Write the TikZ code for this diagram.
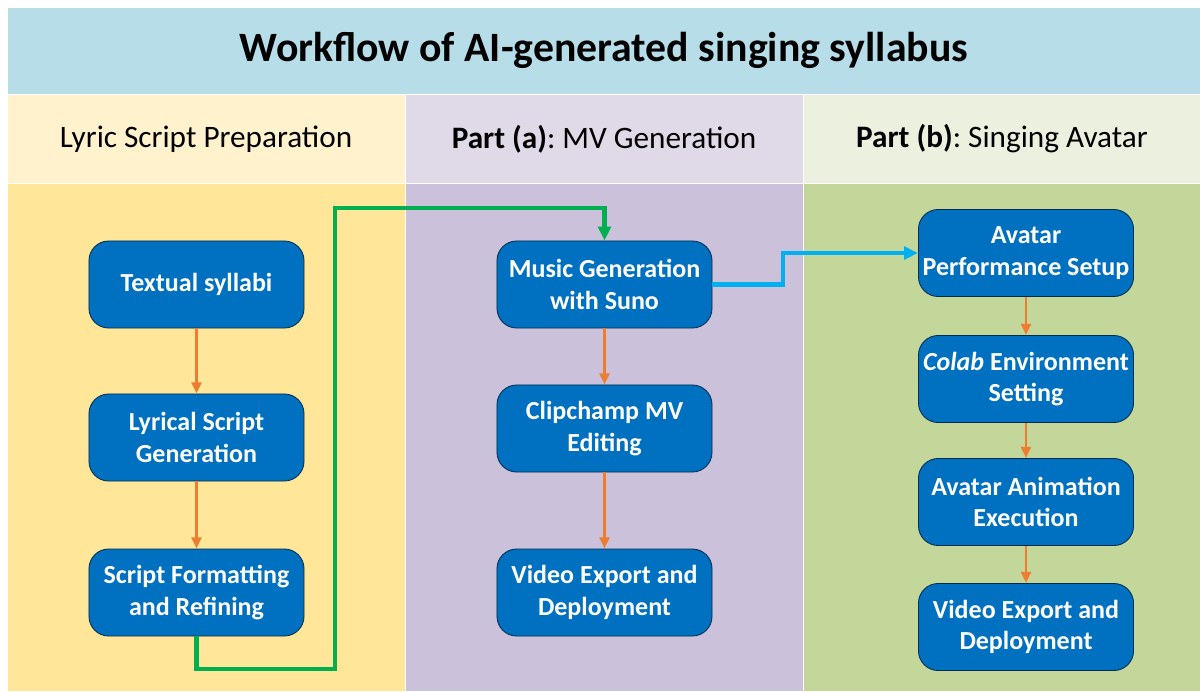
\documentclass[tikz,border=0pt]{standalone}
\usepackage{fontspec}
\setmainfont{Carlito}
\usetikzlibrary{calc,arrows.meta}
\frenchspacing

\definecolor{titleblue}{HTML}{B7DDE8}
\definecolor{headA}{HTML}{FFF2CC}
\definecolor{bodyA}{HTML}{FFE699}
\definecolor{headB}{HTML}{E0D9E7}
\definecolor{bodyB}{HTML}{CCC1DA}
\definecolor{headC}{HTML}{EBF1DE}
\definecolor{bodyC}{HTML}{C4D79B}
\definecolor{boxblue}{HTML}{0070C0}
\definecolor{flowor}{HTML}{ED7D31}
\definecolor{flowgr}{HTML}{00B050}
\definecolor{flowbl}{HTML}{00B0F0}

\begin{document}
\begin{tikzpicture}[x=0.025cm,y=-0.025cm,
	band/.style={draw=white, line width=0.6pt},
	headlab/.style={font=\fontsize{22.2}{26}\selectfont, inner sep=0},
	stepbox/.style={rectangle, rounded corners=14pt, draw=black!60!boxblue, line width=0.6pt, fill=boxblue, text=white, font=\fontsize{18.5}{22.5}\selectfont\bfseries, align=center, minimum width=5.375cm, minimum height=2.175cm, inner sep=0},
	olink/.style={flowor, line width=2pt, -{Triangle[length=8pt,width=7pt]}},
	glink/.style={flowgr, line width=3pt, -{Triangle[length=10pt,width=9pt]}},
	blink/.style={flowbl, line width=3pt, -{Triangle[length=10pt,width=9pt]}}]

		\useasboundingbox[fill=white] (0,0) rectangle (1200,691);
		%bands
		\fill[titleblue,band] (7,7) rectangle (1200,94);
		\fill[headA,band] (7,94) rectangle (405,183);
		\fill[headB,band] (405,94) rectangle (803,183);
		\fill[headC,band] (803,94) rectangle (1200,183);
		\fill[bodyA,band] (7,183) rectangle (405,691);
		\fill[bodyB,band] (405,183) rectangle (803,691);
		\fill[bodyC,band] (803,183) rectangle (1200,691);
		%headers
		\node[font=\fontsize{29.7}{34}\selectfont\bfseries, inner sep=0] (title) at (604,50) {Workflow of AI-generated singing syllabus};
		\node[headlab] (hA) at (206,139) {Lyric Script Preparation};
		\node[headlab] (hB) at (604,139) {\textbf{Part (a)}: MV Generation};
		\node[headlab] (hC) at (1002,139) {\textbf{Part (b)}: Singing Avatar};
		%lyric script column
		\node[stepbox] (t1) at (196.5,284.5) {Textual syllabi};
		\node[stepbox] (t2) at (196.5,437.5) {Lyrical Script\\Generation};
		\node[stepbox] (t3) at (196.5,592.5) {Script Formatting\\and Refining};
		%MV column
		\node[stepbox] (m1) at (604.5,284.5) {Music Generation\\with Suno};
		\node[stepbox] (m2) at (604.5,428.5) {Clipchamp MV\\Editing};
		\node[stepbox] (m3) at (604.5,592.5) {Video Export and\\Deployment};
		%avatar column
		\node[stepbox] (a1) at (1026,253) {Avatar\\Performance Setup};
		\node[stepbox] (a2) at (1026,379) {\textit{Colab} Environment\\Setting};
		\node[stepbox] (a3) at (1026,502) {Avatar Animation\\Execution};
		\node[stepbox] (a4) at (1026,627) {Video Export and\\Deployment};
		%steps
		\foreach \p/\q in {t1/t2,t2/t3,m1/m2,m2/m3,a1/a2,a2/a3,a3/a4} {
			\draw[olink] (\p.south) -- (\q.north);
		}
		%links between parts
		\coordinate (g1) at (335,669);
		\coordinate (g2) at (335,208);
		\draw[glink] (t3.south) |- (g1) -- (g2) -| (m1.north);
		\coordinate (b1) at (783,253);
		\draw[blink] (m1.east) -| (b1) -- (a1.west);
	\end{tikzpicture}
\end{document}
